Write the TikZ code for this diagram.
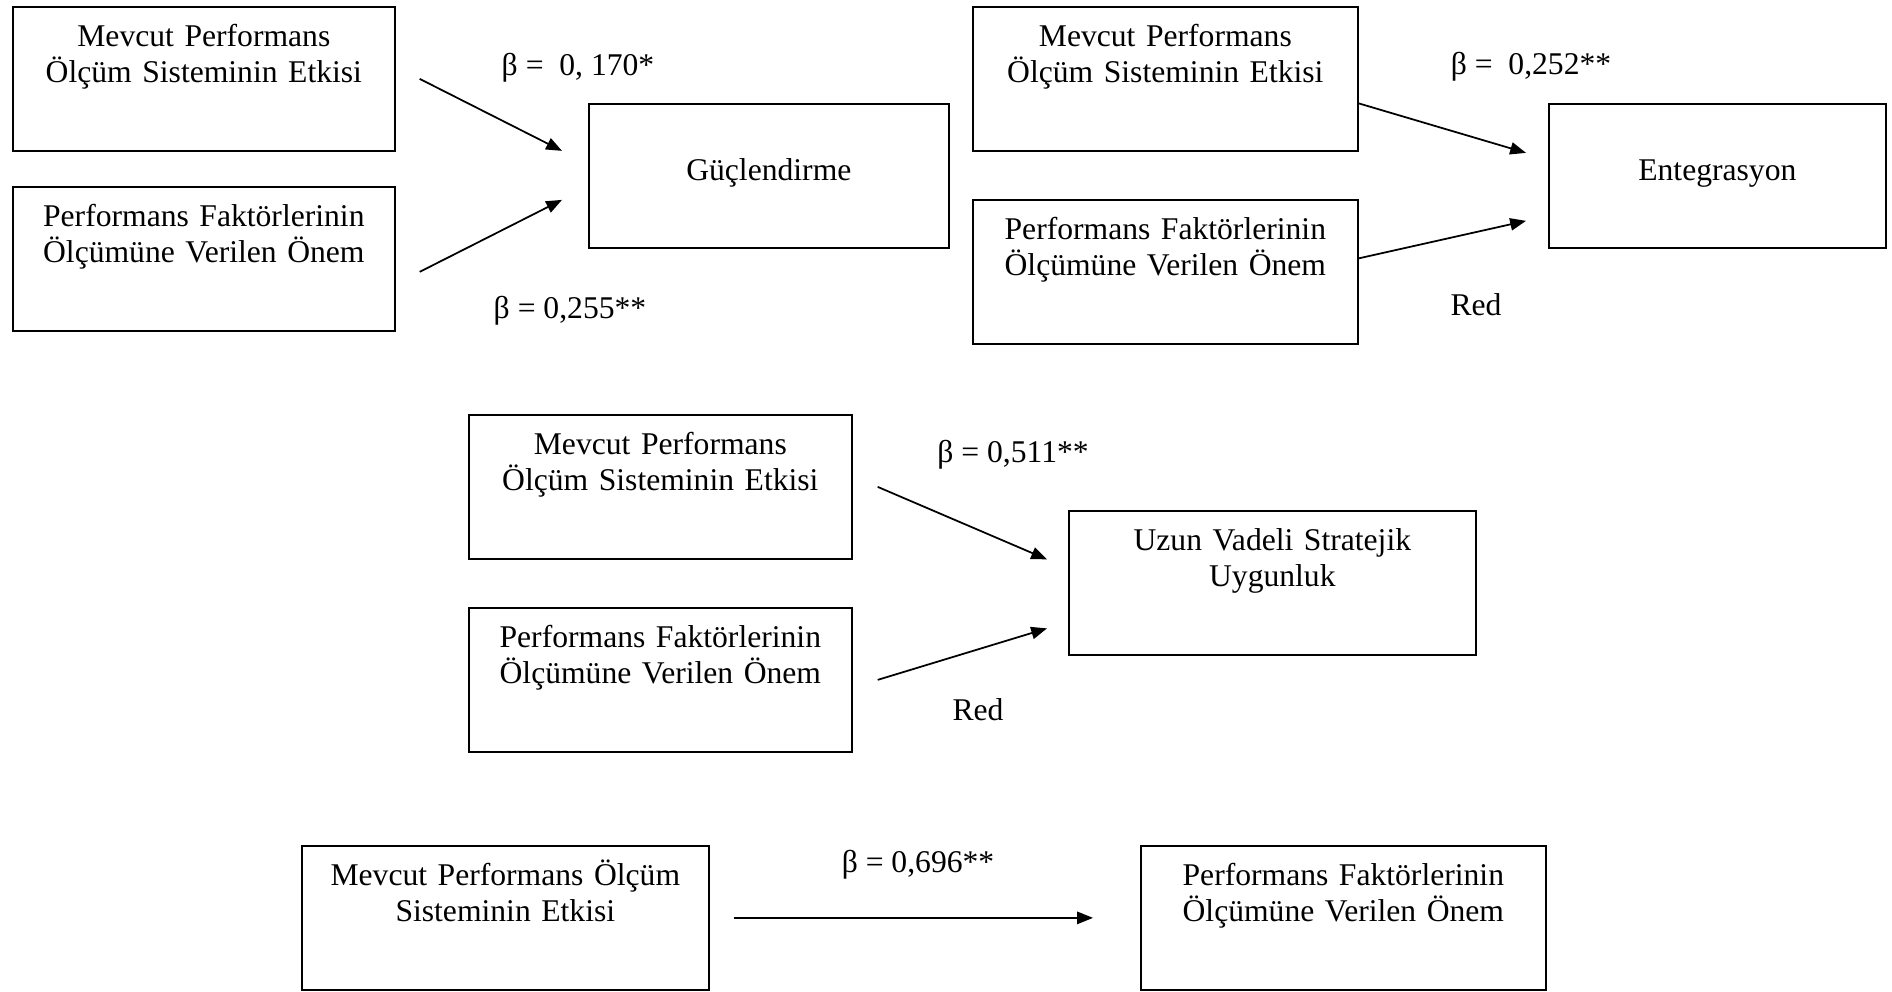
\documentclass[tikz,border=0pt]{standalone}
\usepackage{fontspec}
\setmainfont{Liberation Serif}
\usetikzlibrary{arrows.meta, calc}

\begin{document}
\begin{tikzpicture}[
		x=0.02cm, y=-0.02cm,
		every node/.style={font=\fontsize{18pt}{20.5pt}\selectfont},
		box/.style={draw, line width=1pt, anchor=north west, align=center, inner sep=0pt,
			text height=0.8cm, text depth=2.08cm},
		single/.style={text height=1.54cm, text depth=1.34cm},
		coef/.style={anchor=base, inner sep=0pt},
		>={Triangle[length=9pt, width=7pt]},
		line width=1pt
		]
		
		\useasboundingbox (0,0) rectangle (1892,991);
		
		% Guclendirme
		\node[box, text width=7.64cm] (mevcut1) at (12,6) {Mevcut Performans\\Ölçüm Sisteminin Etkisi};
		\node[box, text width=7.64cm] (onem1) at (12,186) {Performans Faktörlerinin\\Ölçümüne Verilen Önem};
		\node[box, single, text width=7.2cm] (guc) at (588,103) {Güçlendirme};
		
		\draw[->] ($(mevcut1.east)+(24,0)$) -- ($(guc.west)+(-26,-25)$);
		\draw[->] ($(onem1.east)+(24,13)$) -- ($(guc.west)+(-26,24)$);
		\node[coef] (b1) at (578,75) {β = \ 0, 170*};
		\node[coef] (b2) at (570,318) {β = 0,255**};
		
		% Entegrasyon
		\node[box, text width=7.7cm] (mevcut2) at (972,6) {Mevcut Performans\\Ölçüm Sisteminin Etkisi};
		\node[box, text width=7.7cm] (onem2) at (972,199) {Performans Faktörlerinin\\Ölçümüne Verilen Önem};
		\node[box, single, text width=6.74cm] (ent) at (1548,103) {Entegrasyon};
		
		\draw[->] ($(mevcut2.east)+(0,24.5)$) -- ($(ent.west)+(-22,-23)$);
		\draw[->] ($(onem2.east)+(0,-13.5)$) -- ($(ent.west)+(-22,45)$);
		\node[coef] (b3) at (1531,74) {β = \ 0,252**};
		\node[coef] (red1) at (1476,315) {Red};
		
		% Uzun vadeli stratejik uygunluk
		\node[box, text width=7.66cm] (mevcut3) at (468,414) {Mevcut Performans\\Ölçüm Sisteminin Etkisi};
		\node[box, text width=7.66cm] (onem3) at (468,607) {Performans Faktörlerinin\\Ölçümüne Verilen Önem};
		\node[box, text width=8.14cm] (uzun) at (1068,510) {Uzun Vadeli Stratejik\\Uygunluk};
		
		\draw[->] ($(mevcut3.east)+(25,0)$) -- ($(uzun.west)+(-21,-23.5)$);
		\draw[->] ($(onem3.east)+(25,0)$) -- ($(uzun.west)+(-21,45.5)$);
		\node[coef] (b4) at (1013,462) {β = 0,511**};
		\node[coef] (red2) at (978,720) {Red};
		
		% Mevcut sistem -> performans faktorleri
		\node[box, text width=8.14cm] (mevcut4) at (301,845) {Mevcut Performans Ölçüm\\Sisteminin Etkisi};
		\node[box, text width=8.1cm] (onem4) at (1140,845) {Performans Faktörlerinin\\Ölçümüne Verilen Önem};
		
		\draw[->] ($(mevcut4.east)+(24,0)$) -- ($(onem4.west)+(-47,0)$);
		\node[coef] (b5) at (918,872) {β = 0,696**};
		
	\end{tikzpicture}
\end{document}
